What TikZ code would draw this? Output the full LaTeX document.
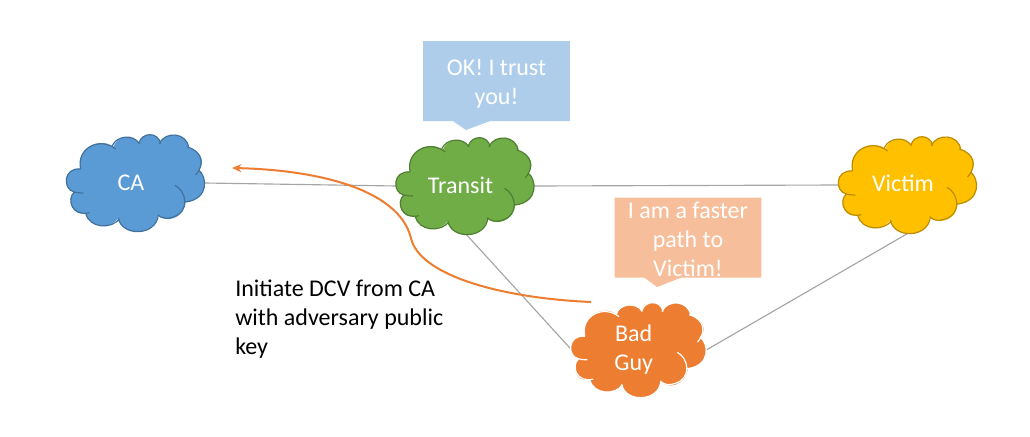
\documentclass[tikz,border=0pt]{standalone}
\usepackage{fontspec}
\setmainfont{Carlito}
\usetikzlibrary{shapes.callouts,arrows.meta}
\pgfdeclarelayer{bg}
\pgfsetlayers{bg,main}
\definecolor{cablue}{HTML}{5B9BD5}
\definecolor{cablueD}{HTML}{41719C}
\definecolor{trgreen}{HTML}{70AD47}
\definecolor{trgreenD}{HTML}{507E32}
\definecolor{vigold}{HTML}{FFC000}
\definecolor{vigoldD}{HTML}{BC8C00}
\definecolor{bgorange}{HTML}{ED7D31}
\definecolor{lightblue}{HTML}{AECDEB}
\definecolor{lightpeach}{HTML}{F6BE9A}
\definecolor{linkgray}{HTML}{A5A5A5}
\newcommand{\cloudshape}[4]{%
  \begin{scope}[shift={(#1,#2)},xscale=#4/3,yscale=#4/3,shift={(-258,-190)}]
    \path[#3,line width=0.9pt,draw=none]
      (92,148) .. controls (78,85) and (150,50) .. (190,82)
      .. controls (200,48) and (250,42) .. (266,72)
      .. controls (275,36) and (325,36) .. (330,72)
      .. controls (345,33) and (412,38) .. (416,85)
      .. controls (458,95) and (465,135) .. (445,150)
      .. controls (472,170) and (478,238) .. (407,247)
      .. controls (402,298) and (345,312) .. (323,285)
      .. controls (320,350) and (215,352) .. (205,295)
      .. controls (185,328) and (118,328) .. (107,280)
      .. controls (68,292) and (48,240) .. (73,217)
      .. controls (38,210) and (38,143) .. (92,148) -- cycle;
    \path[#3,fill=none,line width=0.9pt]
      (92,148) .. controls (78,85) and (150,50) .. (197,88)
      (187,78) .. controls (200,48) and (250,42) .. (268,72)
      (266,72) .. controls (275,36) and (325,36) .. (332,72)
      (328,72) .. controls (345,33) and (412,38) .. (416,85)
      (412,82) .. controls (458,95) and (465,135) .. (437,166)
      (445,150) .. controls (472,170) and (478,238) .. (407,247)
      (375,197) .. controls (410,215) and (420,275) .. (370,292)
      .. controls (350,300) and (333,295) .. (323,285)
      (325,285) .. controls (320,350) and (215,352) .. (205,295)
      (208,298) .. controls (185,328) and (118,328) .. (107,280)
      (118,279) .. controls (68,292) and (48,240) .. (73,217)
      (100,220) .. controls (85,220) and (78,218) .. (73,217)
      .. controls (38,210) and (38,143) .. (92,148);
  \end{scope}}
\tikzset{
  cloudbox/.style={minimum width=#1,inner sep=0pt,align=center,text=white,
    font=\fontsize{18}{21.75}\selectfont},
  bubble/.style={rectangle callout,inner sep=0pt,align=center,text=white,
    minimum width=110pt,minimum height=60pt,
    callout pointer width=28pt,
    font=\fontsize{18}{21.75}\selectfont},
  link/.style={draw=linkgray,line width=0.85pt},
  attack/.style={draw=bgorange,line width=1.5pt,-{Stealth[length=7pt,width=6pt]}},
  caption/.style={align=left,anchor=north west,inner sep=0pt,text=black,
    font=\fontsize{18}{21.75}\selectfont}
}
\newcommand{\nudge}[1]{\kern#1pt}
\begin{document}
\begin{tikzpicture}[x=0.75pt,y=-0.75pt]
\useasboundingbox (0,0) rectangle (1030,436);
\begin{pgfonlayer}{bg}
\fill[white] (0,0) rectangle (1030,436);
\end{pgfonlayer}
% clouds
\cloudshape{136}{183}{fill=cablue,draw=cablueD}{1}
\cloudshape{465.5}{186}{fill=trgreen,draw=trgreenD}{1}
\cloudshape{908}{185}{fill=vigold,draw=vigoldD}{1}
\cloudshape{639}{350}{fill=bgorange,draw=white}{0.98}
% text nodes
\node[cloudbox=103pt,minimum height=73pt] (ca) at (136,183) {\raisebox{1pt}{CA}\nudge{7.5}};
\node[cloudbox=103pt,minimum height=71pt] (transit) at (465.5,186) {\raisebox{1pt}{Transit}\nudge{7.5}};
\node[cloudbox=103pt,minimum height=72pt] (victim) at (908,185) {\raisebox{3pt}{Victim}\nudge{7.5}};
\node[cloudbox=100.5pt,minimum height=70pt] (bad) at (639,350) {Bad\nudge{8}\\Guy\nudge{8}};
% callouts
\coordinate (tiptrust) at (466,130);
\coordinate (tipfaster) at (657,287);
\node[bubble,fill=lightblue,callout absolute pointer={(tiptrust)}] (trust) at (496.5,81) {\rule{0pt}{16.3pt}OK! I trust\\you!};
\node[bubble,fill=lightpeach,callout absolute pointer={(tipfaster)}] (faster) at (688,237.5) {\rule{0pt}{14.5pt}I am a faster\\path to\\Victim!};
% caption
\node[caption] (note) at (235,280) {Initiate DCV from CA\\with adversary public\\key};
% connectors
\begin{pgfonlayer}{bg}
\draw[link] (ca.east) -- (transit.west);
\draw[link] (transit.east) -- (victim.west);
\draw[link] (transit.south) -- (bad.west);
\draw[link] (victim.south) -- (bad.east);
\end{pgfonlayer}
\coordinate (attackstart) at (591,302);
\coordinate (attackend) at (232,168);
\draw[attack] (attackstart) .. controls (500,298) and (418,275) .. (410.7,237)
  .. controls (398,190) and (320,170) .. (attackend);
\end{tikzpicture}
\end{document}
